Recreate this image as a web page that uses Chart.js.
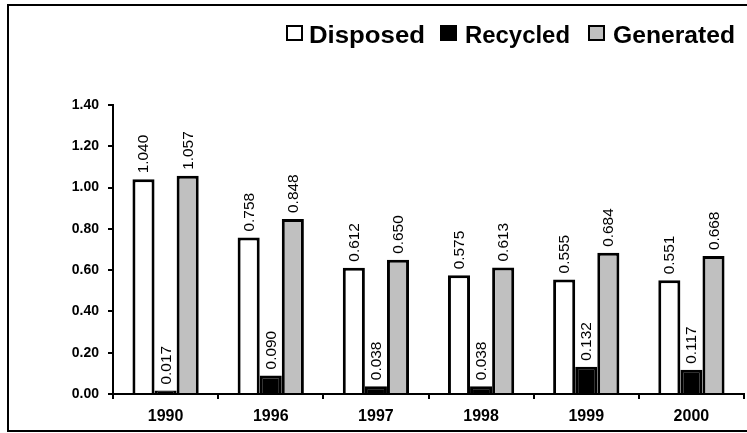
<!DOCTYPE html>
<html>
<head>
<meta charset="utf-8">
<script src="https://cdn.jsdelivr.net/npm/chart.js@4/dist/chart.umd.min.js"></script>
<style>
  html, body { margin: 0; padding: 0; background: #fff; }
  canvas { display: block; }
</style>
</head>
<body>
<canvas id="c" width="747" height="433"></canvas>
<script>
const years = ['1990', '1996', '1997', '1998', '1999', '2000'];
const disposed = [1.040, 0.758, 0.612, 0.575, 0.555, 0.551];
const recycled = [0.017, 0.090, 0.038, 0.038, 0.132, 0.117];
const generated = [1.057, 0.848, 0.650, 0.613, 0.684, 0.668];
const yTicks = [0, 0.2, 0.4, 0.6, 0.8, 1.0, 1.2, 1.4];

const FONT = "'Liberation Sans', Arial, sans-serif";
const GREY = '#c0c0c0';

// Frame around the whole figure
const framePlugin = {
  id: 'frame',
  beforeDraw(chart) {
    const ctx = chart.ctx;
    ctx.save();
    ctx.fillStyle = '#fff';
    ctx.fillRect(0, 0, chart.width, chart.height);
    ctx.strokeStyle = '#000';
    ctx.lineWidth = 2;
    ctx.strokeRect(8, 5, chart.width + 10, 426);
    ctx.restore();
  }
};

// Rotated value labels above each bar
const valueLabels = {
  id: 'valueLabels',
  afterDatasetsDraw(chart) {
    const ctx = chart.ctx;
    ctx.save();
    ctx.fillStyle = '#000';
    ctx.font = '14px ' + FONT;
    ctx.textAlign = 'left';
    ctx.textBaseline = 'alphabetic';
    chart.data.datasets.forEach((ds, di) => {
      chart.getDatasetMeta(di).data.forEach((bar, i) => {
        ctx.save();
        ctx.translate(bar.x, bar.y - 6);
        ctx.rotate(-Math.PI / 2);
        ctx.scale(1.1, 1);
        ctx.fillText(ds.data[i].toFixed(3), 0, 5);
        ctx.restore();
      });
    });
    ctx.restore();
  }
};

// Legend row across the top right
const topLegend = {
  id: 'topLegend',
  afterDraw(chart) {
    const ctx = chart.ctx;
    const items = [
      { text: 'Disposed', fill: '#fff', box: 287, tx: 309, w: 116 },
      { text: 'Recycled', fill: '#000', box: 441, tx: 465, w: 105 },
      { text: 'Generated', fill: GREY, box: 589, tx: 613, w: 122 }
    ];
    ctx.save();
    ctx.font = 'bold 23px ' + FONT;
    ctx.textBaseline = 'alphabetic';
    ctx.textAlign = 'left';
    items.forEach(it => {
      ctx.fillStyle = it.fill;
      ctx.fillRect(it.box, 26, 15, 14);
      ctx.strokeStyle = '#000';
      ctx.lineWidth = 2;
      ctx.strokeRect(it.box, 26, 15, 14);
      ctx.fillStyle = '#000';
      const natural = ctx.measureText(it.text).width;
      ctx.save();
      ctx.translate(it.tx, 43);
      ctx.scale(it.w / natural, 1);
      ctx.fillText(it.text, 0, 0);
      ctx.restore();
    });
    ctx.restore();
  }
};

const barStyle = { borderColor: '#000', borderWidth: 3, borderSkipped: 'start' };

new Chart(document.getElementById('c'), {
  type: 'bar',
  data: {
    labels: years,
    datasets: [
      Object.assign({ label: 'Disposed', data: disposed, backgroundColor: '#fff' }, barStyle),
      Object.assign({ label: 'Recycled', data: recycled, backgroundColor: '#000' }, barStyle),
      Object.assign({ label: 'Generated', data: generated, backgroundColor: GREY }, barStyle)
    ]
  },
  options: {
    responsive: false,
    devicePixelRatio: 1,
    animation: false,
    categoryPercentage: 0.63,
    barPercentage: 1.0,
    layout: { padding: { top: 105, right: 3, left: 0, bottom: 0 } },
    plugins: {
      legend: { display: false },
      tooltip: { enabled: false }
    },
    scales: {
      x: {
        grid: { offset: true, drawOnChartArea: false, drawTicks: true, tickLength: 5, color: '#000', lineWidth: 2 },
        border: { display: true, color: '#000', width: 2 },
        ticks: { color: '#000', font: { family: FONT, size: 16, weight: 'bold' }, padding: 8 },
        afterFit(scale) { scale.height = 39; }
      },
      y: {
        min: 0,
        max: 1.4,
        afterBuildTicks(scale) { scale.ticks = yTicks.map(v => ({ value: v })); },
        grid: { drawOnChartArea: false, drawTicks: true, tickLength: 5, color: '#000', lineWidth: 2 },
        border: { display: true, color: '#000', width: 2 },
        ticks: {
          color: '#000',
          font: { family: FONT, size: 14, weight: 'bold' },
          padding: 9,
          callback: v => Number(v).toFixed(2)
        },
        afterFit(scale) { scale.width = 113; }
      }
    }
  },
  plugins: [framePlugin, valueLabels, topLegend]
});
</script>
</body>
</html>
